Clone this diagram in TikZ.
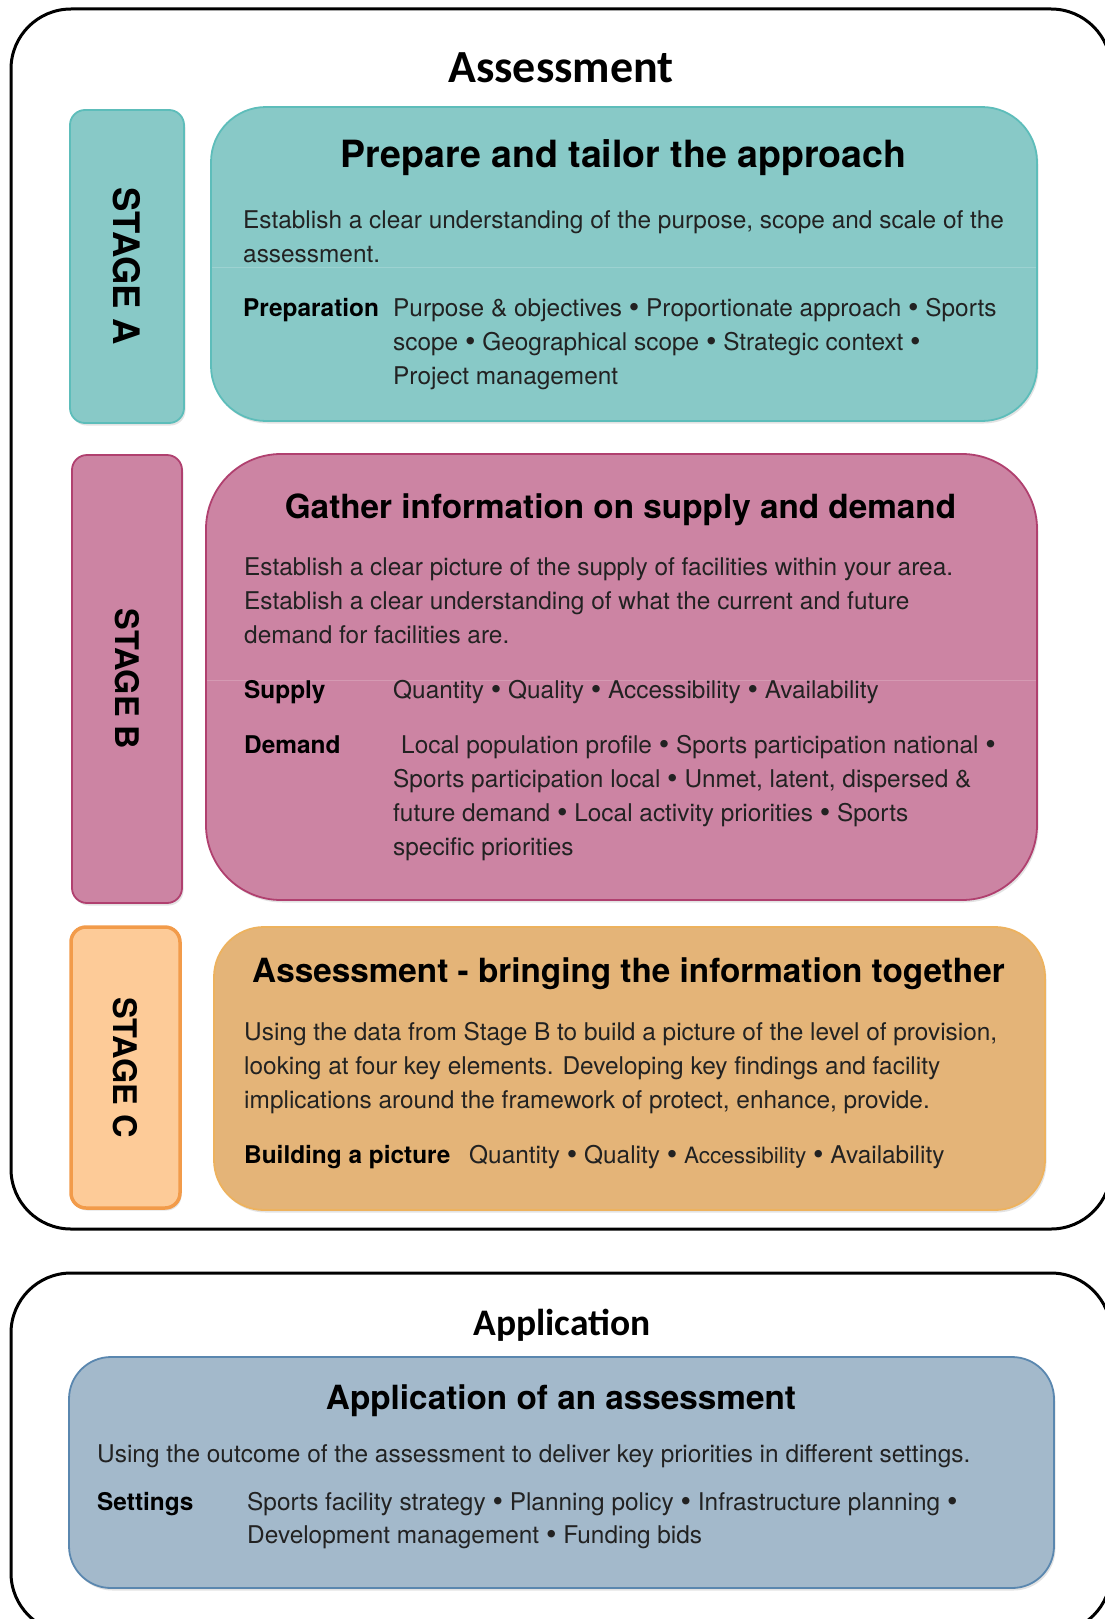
\documentclass[tikz,border=0pt]{standalone}
\usepackage{fontspec}
\setmainfont{TeX Gyre Heros}
\newfontfamily\calfont{Carlito}
\usetikzlibrary{shadows}
\definecolor{tealfill}{HTML}{88C9C7}
\definecolor{tealdraw}{HTML}{5DBDBA}
\definecolor{pinkfill}{HTML}{CC84A3}
\definecolor{pinkdraw}{HTML}{B0406F}
\definecolor{peachfill}{HTML}{FDCB98}
\definecolor{peachdraw}{HTML}{F29B4A}
\definecolor{orangefill}{HTML}{E4B478}
\definecolor{orangedraw}{HTML}{EDB25E}
\definecolor{bluefill}{HTML}{A3B9CB}
\definecolor{bluedraw}{HTML}{5A87AF}
\definecolor{bodytext}{HTML}{222222}
\newcommand\mlines[1]{\begin{tabular}[t]{@{}l@{}}#1\end{tabular}}
\newcommand\bul{{\fontsize{30}{34}\selectfont\raisebox{-1.5pt}{\textbullet}}}
\tikzset{
  frame/.style={draw=black, line width=3pt, rounded corners=60pt, anchor=north west, inner sep=0pt, outer sep=0pt},
  panel/.style={anchor=north west, inner sep=0pt, outer sep=0pt, line width=1.8pt,
    drop shadow={opacity=0.22, shadow xshift=1.5pt, shadow yshift=-2.5pt}},
  side/.style={panel, rounded corners=15pt},
  heading/.style={font=\calfont\bfseries\fontsize{46}{54}\selectfont, anchor=base},
  paneltitle/.style={font=\bfseries\fontsize{33.3}{40}\selectfont, anchor=base, text=black},
  body/.style={font=\fontsize{24.4}{34}\selectfont, anchor=base west, inner sep=0pt, text=bodytext},
  label/.style={font=\bfseries\fontsize{24.4}{34}\selectfont, anchor=base west, inner sep=0pt, text=black},
  stagetext/.style={font=\bfseries\fontsize{32.5}{40}\selectfont, rotate=-90, text=black},
  sepline/.style={white, opacity=0.18, line width=1pt}
}
\begin{document}
\begin{tikzpicture}[x=1pt,y=-1pt]
\useasboundingbox (0,0) rectangle (1105,1619);
\clip (0,0) rectangle (1105,1619);
\fill[white] (0,0) rectangle (1105,1619);

% ---------- Assessment frame ----------
\node[frame, minimum width=1100pt, minimum height=1220pt] (assessframe) at (11,9) {};
\node[heading] (assesshead) at (561,82) {Assessment};

% ---------- Stage A ----------
\node[side, fill=tealfill, draw=tealdraw, minimum width=114pt, minimum height=313pt] (sideA) at (70,110) {};
\node[stagetext, font=\bfseries\fontsize{36.5}{40}\selectfont] (stageA) at (sideA.center) {STAGE A};
\node[panel, fill=tealfill, draw=tealdraw, rounded corners=55pt, minimum width=826pt, minimum height=314pt] (panelA) at (211,107) {};
\coordinate (sepAl) at (212,267);
\coordinate (sepAr) at (1036,267);
\draw[sepline] (sepAl) -- (sepAr);
\node[paneltitle, font=\bfseries\fontsize{37.5}{44}\selectfont] (titleA) at (623.5,167) {Prepare and tailor the approach};
\node[body] (bodyA) at (243,228) {\mlines{Establish a clear understanding of the purpose, scope and scale of the\\assessment.}};
\node[label] (prepA) at (243,316) {Preparation};
\node[body] (itemsA) at (393,316) {\mlines{Purpose \& objectives \bul\ Proportionate approach \bul\ Sports\\scope \bul\ Geographical scope \bul\ Strategic context \bul\\Project management}};

% ---------- Stage B ----------
\node[side, fill=pinkfill, draw=pinkdraw, minimum width=110pt, minimum height=448pt] (sideB) at (72,455) {};
\node[stagetext] (stageB) at (sideB.center) {STAGE B};
\node[panel, fill=pinkfill, draw=pinkdraw, rounded corners=75pt, minimum width=831pt, minimum height=446pt] (panelB) at (206,454) {};
\coordinate (sepBl) at (207,680);
\coordinate (sepBr) at (1036,680);
\draw[sepline] (sepBl) -- (sepBr);
\node[paneltitle] (titleB) at (620.5,518) {Gather information on supply and demand};
\node[body] (bodyB) at (244,575) {\mlines{Establish a clear picture of the supply of facilities within your area.\\Establish a clear understanding of what the current and future\\demand for facilities are.}};
\node[label] (supplyB) at (244,698) {Supply};
\node[body] (supplyitems) at (393,698) {Quantity \bul\ Quality \bul\ Accessibility \bul\ Availability};
\node[label] (demandB) at (244,753) {Demand};
\node[body] (demanditems1) at (401,753) {Local population profile \bul\ Sports participation national \bul};
\node[body] (demanditems2) at (393,787) {\mlines{Sports participation local \bul\ Unmet, latent, dispersed \&\\future demand \bul\ Local activity priorities \bul\ Sports\\specific priorities}};

% ---------- Stage C ----------
\node[side, fill=peachfill, draw=peachdraw, line width=3.5pt, minimum width=109pt, minimum height=281pt] (sideC) at (71,927) {};
\node[stagetext] (stageC) at (sideC.center) {STAGE C};
\node[panel, fill=orangefill, draw=orangedraw, rounded corners=50pt, minimum width=831pt, minimum height=283pt] (panelC) at (214,927) {};
\node[paneltitle] (titleC) at (628.5,982) {Assessment - bringing the information together};
\node[body] (bodyC) at (244,1040) {\mlines{Using the data from Stage B to build a picture of the level of provision,\\looking at four key elements. Developing key findings and facility\\implications around the framework of protect, enhance, provide.}};
\node[label] (buildC) at (244,1163) {Building a picture};
\node[body] (builditems) at (469,1163) {Quantity \bul\ Quality \bul\ {\fontsize{22.5}{34}\selectfont Accessibility} \bul\ Availability};

% ---------- Application frame ----------
\node[frame, minimum width=1100pt, minimum height=360pt] (appframe) at (11,1273) {};
\node[heading, font=\calfont\bfseries\fontsize{37.5}{45}\selectfont] (apphead) at (562,1335) {Application};
\node[panel, fill=bluefill, draw=bluedraw, rounded corners=42pt, minimum width=985pt, minimum height=231pt] (panelD) at (69,1357) {};
\node[paneltitle] (titleD) at (561,1409) {Application of an assessment};
\node[body] (bodyD) at (97,1462) {Using the outcome of the assessment to deliver key priorities in different settings.};
\node[label] (settingsD) at (97,1510) {Settings};
\node[body, font=\fontsize{24.4}{33}\selectfont] (settingsitems) at (247,1510) {\mlines{Sports facility strategy \bul\ Planning policy \bul\ Infrastructure planning \bul\\Development management \bul\ Funding bids}};
\end{tikzpicture}
\end{document}
